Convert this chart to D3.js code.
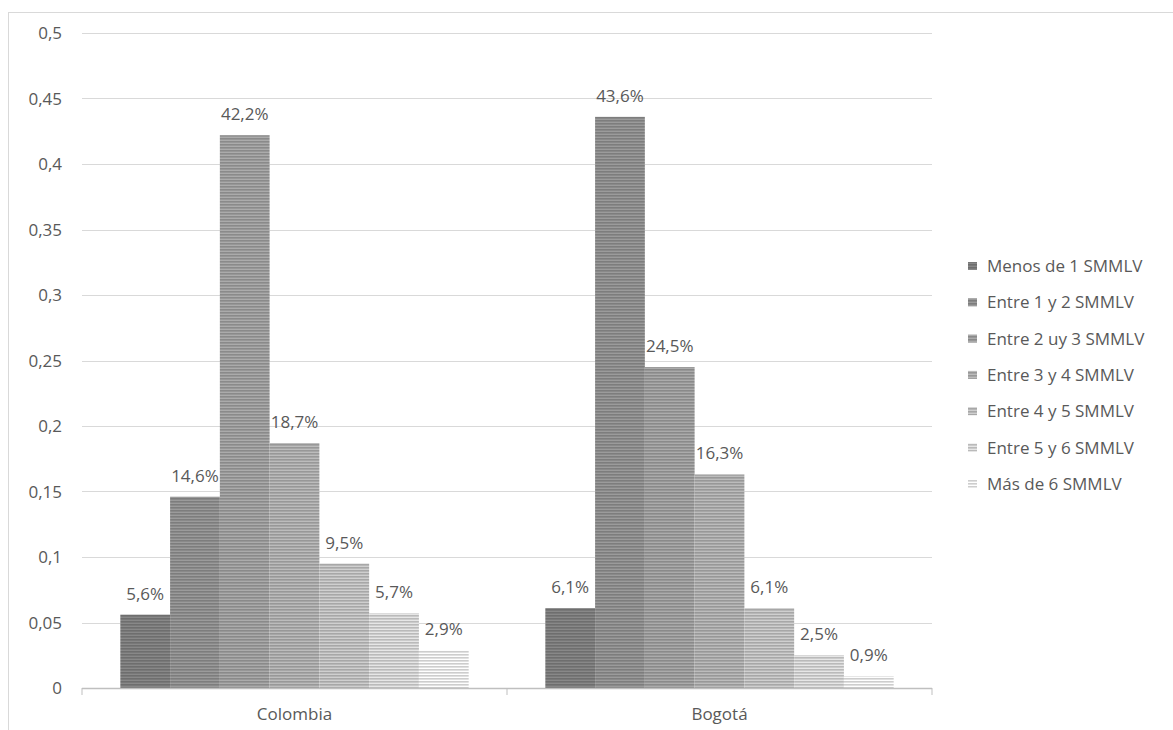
<!DOCTYPE html>
<html><head><meta charset="utf-8">
<script src="https://cdn.jsdelivr.net/npm/d3@7"></script>
<style>body{margin:0;background:#fff}text{font-family:"Open Sans","Liberation Sans",sans-serif;fill:#595959}</style>
</head><body><svg id="c" width="1173" height="730"></svg>
<script>
const categories = ["Colombia", "Bogotá"];
const series = ["Menos de 1 SMMLV","Entre 1 y 2 SMMLV","Entre 2 uy 3 SMMLV","Entre 3 y 4 SMMLV","Entre 4 y 5 SMMLV","Entre 5 y 6 SMMLV","Más de 6 SMMLV"];
const colombia = [0.056, 0.146, 0.422, 0.187, 0.095, 0.057, 0.029];
const bogota = [0.061, 0.436, 0.245, 0.163, 0.061, 0.025, 0.009];
const yTicks = [0,0.05,0.1,0.15,0.2,0.25,0.3,0.35,0.4,0.45,0.5];
const colors = ["#747474","#848484","#929292","#a0a0a0","#b0b0b0","#c4c4c4","#d8d8d8"];
const values = [colombia, bogota];
const FS = 17;

const svg = d3.select("#c");
const defs = svg.append("defs");
colors.forEach((c,i)=>{
  const p = defs.append("pattern").attr("id","p"+i).attr("patternUnits","userSpaceOnUse").attr("width",4).attr("height",3);
  p.append("rect").attr("width",4).attr("height",3).attr("fill",d3.color(c).brighter(0.45));
  p.append("rect").attr("width",4).attr("height",1.6).attr("fill",d3.color(c).darker(0.15));
});
svg.append("rect").attr("x",8.5).attr("y",12.5).attr("width",1300).attr("height",900).attr("fill","none").attr("stroke","#d9d9d9");

const x0 = d3.scaleBand().domain(categories).range([82,932]);
const x1 = d3.scaleBand().domain(series).range([0,x0.bandwidth()]).paddingOuter(0.77).paddingInner(0);
const y = d3.scaleLinear().domain([0,0.5]).range([688,33]);
const fmt = v => v.toString().replace(".",",");

svg.append("g").selectAll("line").data(yTicks.slice(1)).join("line")
  .attr("x1",82).attr("x2",932).attr("y1",d=>Math.round(y(d))+0.5).attr("y2",d=>Math.round(y(d))+0.5)
  .attr("stroke","#d9d9d9");
svg.append("g").selectAll("text").data(yTicks).join("text")
  .attr("x",62).attr("y",d=>y(d)+6).attr("text-anchor","end").attr("font-size",FS).text(fmt);

categories.forEach((cat,ci)=>{
  const g = svg.append("g").attr("transform",`translate(${x0(cat)},0)`);
  series.forEach((s,si)=>{
    const v = values[ci][si];
    g.append("rect").attr("x",x1(s)).attr("y",y(v)).attr("width",x1.bandwidth()).attr("height",y(0)-y(v)).attr("fill",`url(#p${si})`);
    g.append("text").attr("x",x1(s)+x1.bandwidth()/2).attr("y",y(v)-15).attr("text-anchor","middle").attr("font-size",FS)
      .text((v*100).toFixed(1).replace(".",",")+"%");
  });
  svg.append("text").attr("x",x0(cat)+x0.bandwidth()/2).attr("y",720).attr("text-anchor","middle").attr("font-size",FS).text(cat);
});
svg.append("line").attr("x1",82).attr("x2",932).attr("y1",688.5).attr("y2",688.5).attr("stroke","#bfbfbf").attr("stroke-width",1.5);
svg.append("g").selectAll("line").data([82, x0("Bogotá"), 932]).join("line")
  .attr("x1",d=>d).attr("x2",d=>d).attr("y1",688).attr("y2",695).attr("stroke","#bfbfbf");

const lg = svg.append("g");
series.forEach((s,i)=>{
  const yy = 266 + i*36.3;
  lg.append("rect").attr("x",968).attr("y",yy-4).attr("width",9).attr("height",8).attr("fill",`url(#p${i})`);
  lg.append("text").attr("x",987).attr("y",yy+6).attr("font-size",FS).text(s);
});
</script></body></html>
